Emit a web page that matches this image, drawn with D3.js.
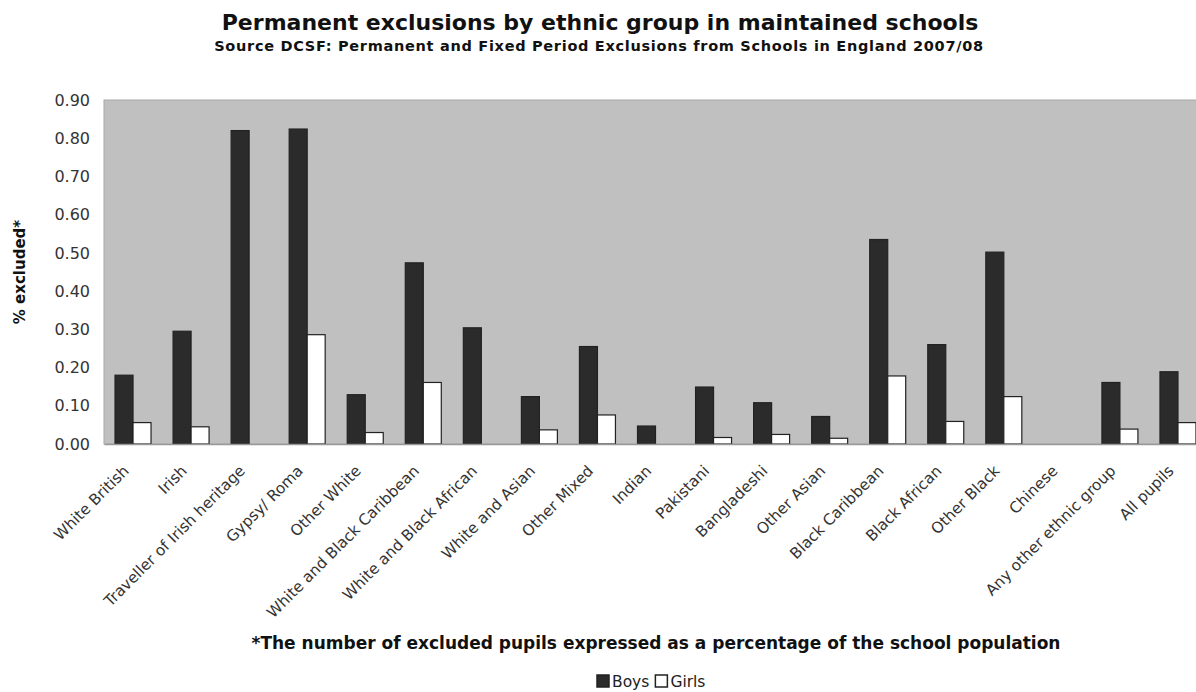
<html>
<head>
<title>Permanent exclusions</title>
<script src="https://d3js.org/d3.v7.min.js" charset="utf-8"></script>
<style>
    body { margin: 0; background: white; font-family: "DejaVu Sans", Verdana, sans-serif; }
    .tick text { fill: #333; }
</style>
</head>
<body>
<script>
    // values (null = no bar shown)
    var groups = ["White British", "Irish", "Traveller of Irish heritage", "Gypsy/ Roma", "Other White",
        "White and Black Caribbean", "White and Black African", "White and Asian", "Other Mixed", "Indian",
        "Pakistani", "Bangladeshi", "Other Asian", "Black Caribbean", "Black African", "Other Black",
        "Chinese", "Any other ethnic group", "All pupils"];
    var boys = [0.18, 0.295, 0.82, 0.824, 0.129, 0.474, 0.304, 0.124, 0.255, 0.047,
        0.149, 0.108, 0.072, 0.535, 0.26, 0.502, null, 0.161, 0.189];
    var girls = [0.056, 0.045, null, 0.286, 0.03, 0.161, null, 0.037, 0.076, null,
        0.017, 0.025, 0.015, 0.178, 0.059, 0.124, null, 0.039, 0.056];
    var series = ["Boys", "Girls"];
    var yTicks = [0, 0.1, 0.2, 0.3, 0.4, 0.5, 0.6, 0.7, 0.8, 0.9];

    var width = 1196, height = 692;
    // plot box (note: "top" is a reserved window global, so use other names)
    var pLeft = 104, pRight = 1207, pTop = 100, pBottom = 444;

    var svg = d3.select("body").append("svg")
        .attr("width", width)
        .attr("height", height);

    var x = d3.scaleBand().domain(groups).range([pLeft, pRight]).paddingInner(0.38).paddingOuter(0.19);
    var xs = d3.scaleBand().domain(series).range([0, x.bandwidth()]);
    var y = d3.scaleLinear().domain([0, 0.9]).range([pBottom, pTop]);
    var fills = { Boys: "#2b2b2b", Girls: "#ffffff" };

    // plot background
    svg.append("rect")
        .attr("x", pLeft).attr("y", pTop)
        .attr("width", pRight - pLeft).attr("height", pBottom - pTop)
        .attr("fill", "#c0c0c0")
        .attr("stroke", "#a8a8a8");

    // bars
    var rows = groups.map(function(g, i) { return { g: g, Boys: boys[i], Girls: girls[i] }; });
    var grp = svg.append("g").selectAll("g")
        .data(rows).enter().append("g")
        .attr("transform", function(d) { return "translate(" + x(d.g) + ",0)"; });

    grp.selectAll("rect")
        .data(function(d) { return series.filter(function(s) { return d[s] != null; })
            .map(function(s) { return { s: s, v: d[s] }; }); })
        .enter().append("rect")
        .attr("x", function(d) { return xs(d.s); })
        .attr("y", function(d) { return y(d.v); })
        .attr("width", xs.bandwidth())
        .attr("height", function(d) { return pBottom - y(d.v); })
        .attr("fill", function(d) { return fills[d.s]; })
        .attr("stroke", "#222")
        .attr("stroke-width", 1.2);

    // y axis
    var yAxis = svg.append("g")
        .attr("transform", "translate(" + pLeft + ",0)")
        .call(d3.axisLeft(y).tickValues(yTicks).tickFormat(d3.format(".2f")).tickSize(0).tickPadding(14));
    yAxis.select(".domain").remove();
    yAxis.selectAll("text").attr("font-size", 16).attr("font-family", "DejaVu Sans");

    // x axis
    var xAxis = svg.append("g")
        .attr("transform", "translate(0," + pBottom + ")")
        .call(d3.axisBottom(x).tickSize(0));
    xAxis.select(".domain").attr("stroke", "#999").attr("stroke-width", 1.5);
    xAxis.selectAll("text")
        .attr("font-size", 15.3)
        .attr("font-family", "DejaVu Sans")
        .attr("text-anchor", "end")
        .attr("x", 0).attr("y", 0)
        .attr("dy", "0.35em")
        .attr("transform", "translate(-7,24) rotate(-45)");

    // titles
    svg.append("text")
        .attr("x", 600).attr("y", 30)
        .attr("text-anchor", "middle")
        .attr("font-size", 22).attr("font-weight", "bold")
        .attr("fill", "#111")
        .text("Permanent exclusions by ethnic group in maintained schools");
    svg.append("text")
        .attr("x", 599).attr("y", 51)
        .attr("text-anchor", "middle")
        .attr("font-size", 14.5).attr("font-weight", "bold")
        .attr("letter-spacing", 0.7)
        .attr("fill", "#111")
        .text("Source DCSF: Permanent and Fixed Period Exclusions from Schools in England 2007/08");

    svg.append("text")
        .attr("transform", "translate(25," + ((pTop + pBottom) / 2) + ") rotate(-90)")
        .attr("text-anchor", "middle")
        .attr("font-size", 15).attr("font-weight", "bold")
        .attr("fill", "#111")
        .text("% excluded*");

    svg.append("text")
        .attr("x", 656).attr("y", 649)
        .attr("text-anchor", "middle")
        .attr("font-size", 17).attr("font-weight", "bold")
        .attr("fill", "#111")
        .text("*The number of excluded pupils expressed as a percentage of the school population");

    // legend
    var leg = svg.append("g").attr("transform", "translate(597,687)");
    var lx = 0;
    series.forEach(function(s) {
        leg.append("rect").attr("x", lx).attr("y", -12).attr("width", 12).attr("height", 12)
            .attr("fill", fills[s]).attr("stroke", "#222").attr("stroke-width", 1.5);
        var t = leg.append("text").attr("x", lx + 15).attr("y", 0)
            .attr("font-size", 15.5).attr("fill", "#222").text(s);
        lx += 15 + t.node().getComputedTextLength() + 6;
    });
</script>
</body>
</html>
